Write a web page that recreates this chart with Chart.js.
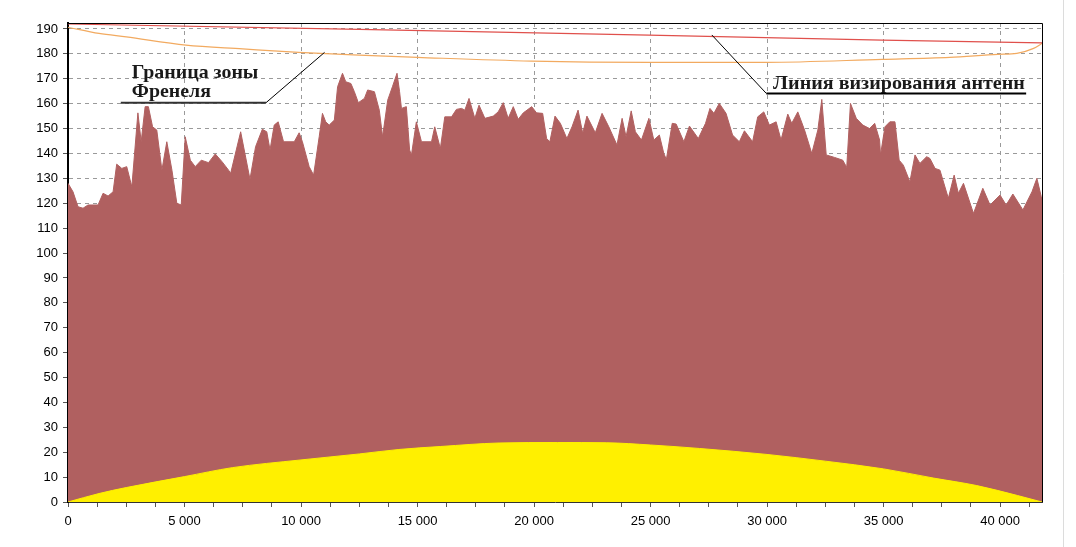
<!DOCTYPE html>
<html>
<head>
<meta charset="utf-8">
<title>Профиль трассы</title>
<script src="https://cdn.jsdelivr.net/npm/chart.js@4/dist/chart.umd.min.js"></script>
<style>
  html, body { margin: 0; padding: 0; background: #fff; }
  #wrap { width: 1076px; height: 547px; position: relative; }
</style>
</head>
<body>
<div id="wrap"><canvas id="chart-profile" width="1076" height="547"></canvas></div>
<script>
// terrain profile (distance, m / height, m)
const terrainDist = [
  0, 215, 430, 645, 860, 1290, 1505, 1720, 1935, 2090, 2310, 2520, 2740, 3000, 3140, 3310, 3450, 3630, 3810, 4030,
  4240, 4460, 4670, 4860, 5030, 5250, 5460, 5720, 6030, 6320, 6610, 6890, 6980, 7410, 7810, 8050, 8340, 8530, 8670, 8850,
  9020, 9250, 9710, 9920, 10060, 10350, 10540, 10780, 10920, 11060, 11210, 11430, 11570, 11780, 11920, 12140, 12290, 12460, 12720, 12860,
  13150, 13360, 13500, 13720, 13930, 14120, 14230, 14310, 14520, 14660, 14740, 14950, 15170, 15600, 15740, 15980, 16170, 16460, 16670, 16890,
  17030, 17210, 17460, 17640, 17890, 18250, 18460, 18680, 18890, 19110, 19320, 19540, 19900, 20110, 20370, 20540, 20680, 20900, 21130, 21410,
  21630, 21890, 22090, 22270, 22630, 22920, 23210, 23560, 23780, 23950, 24170, 24350, 24610, 24930, 25140, 25380, 25570, 25680, 25930, 26100,
  26430, 26670, 27050, 27360, 27550, 27720, 27950, 28240, 28520, 28810, 29030, 29380, 29600, 29860, 30100, 30390, 30600, 30890, 31060, 31320,
  31610, 31920, 32180, 32350, 32540, 32900, 33250, 33420, 33580, 33830, 34110, 34400, 34620, 34830, 34870, 35060, 35270, 35490, 35670, 35850,
  36130, 36350, 36560, 36850, 36990, 37210, 37420, 37780, 38030, 38210, 38430, 38860, 39260, 39570, 40000, 40260, 40550, 40980, 41370, 41580,
  41770, 41800
];
const terrainHeight = [
  128, 124.6, 118.6, 118, 119.3, 119.3, 124, 122.9, 124.6, 135.7, 134, 134.7, 126.6, 156.3, 144.7, 158.8, 158.8, 150.7, 149.4, 133.3,
  144.7, 133.3, 120, 119.3, 146.7, 137.3, 134.7, 137.3, 136.3, 139.8, 136.7, 133.3, 132, 148.7, 129.6, 142.7, 149.7, 148.7, 141.4, 151.4,
  152.7, 144.7, 144.7, 148.3, 144.7, 134.7, 131.3, 146.7, 156.1, 152.7, 151.4, 153.4, 166.8, 172.2, 168.8, 168.1, 164.8, 160.4, 162.1, 165.5,
  164.8, 157.4, 146.7, 161.4, 167, 172.2, 164.8, 158.1, 158.8, 141.4, 139.4, 152.7, 144.7, 144.7, 150.7, 142, 154.7, 154.7, 157.7, 158.1,
  157.4, 162.1, 154.1, 159.4, 154.1, 155, 156.7, 160.4, 154.1, 158.8, 153.7, 156.3, 158.8, 156.3, 156.1, 146, 144.7, 155, 152.1, 146,
  150.7, 157.4, 148.1, 155, 148.3, 156.1, 150.7, 143.4, 154.1, 146.7, 157.1, 148.7, 145.4, 154.1, 145.4, 147.4, 140, 137.6, 152.1, 151.8,
  144.7, 151, 146, 152.1, 158.1, 156.1, 160.1, 156.1, 147.4, 144.7, 149.1, 144.7, 154.7, 156.7, 151.4, 152.7, 145.4, 155.8, 152.1, 156.7,
  149.4, 140, 149.4, 161.7, 139.4, 138.4, 137.3, 134.4, 160.1, 154.1, 151.4, 150, 152.1, 145.4, 139.4, 150.7, 152.7, 152.7, 137.3, 135.3,
  128.6, 139.4, 136, 138.7, 138, 134, 133.3, 122, 131.3, 124, 128, 115.9, 126, 119.3, 123.3, 119.3, 123.7, 117.3, 124.6, 130,
  122.6, 122
];

// earth bulge
const bulgeDist = [0, 1330, 2500, 5000, 7050, 10000, 12500, 14200, 16000, 18500, 21000, 23100, 25000, 27100, 30000, 32500, 35000, 37150, 39000, 40750, 41800];
const bulgeHeight = [0, 3.4, 5.8, 10.2, 13.8, 16.9, 19.3, 21.1, 22.3, 23.7, 23.9, 23.8, 22.9, 21.5, 19.1, 16.4, 13.3, 9.6, 6.6, 2.6, 0];

// line of sight
const losDist = [0, 12490, 24930, 34940, 41800];
const losHeight = [192, 189.8, 187.5, 185.5, 184.4];

// lower Fresnel zone boundary
const fresnelDist = [0, 1330, 2500, 5060, 7500, 9900, 12490, 15000, 19900, 24930, 29970, 34940, 37840, 39900, 40720, 41440, 41800];
const fresnelHeight = [190.7, 188.2, 186.8, 183.5, 182, 180.6, 179.5, 178.6, 177.1, 176.6, 176.6, 177.8, 178.6, 179.8, 180.2, 182.2, 184.2];

// axes
const yTicks = [0, 10, 20, 30, 40, 50, 60, 70, 80, 90, 100, 110, 120, 130, 140, 150, 160, 170, 180, 190];
const xMajorTicks = [0, 5000, 10000, 15000, 20000, 25000, 30000, 35000, 40000];
const xMinorStep = 1250;
const xMax = 41800;
const yMax = 192.4;

// callouts (in data units)
const fresnelNote = { lines: ['Граница зоны', 'Френеля'], left: 2740, right: 8170, baselines: [170.5, 162.6],
  underline: [2265, 8500, 160.4], pointerFrom: [8500, 160.4], pointerTo: [11010, 180.6], underColor: '#333' };
const losNote = { lines: ['Линия визирования антенн'], left: 30260, right: 41065, baselines: [165.7],
  underline: [29970, 41120, 164.1], pointerFrom: [29970, 164.1], pointerTo: [27630, 187.6], underColor: '#000' };

const toXY = (xs, ys) => xs.map((v, i) => ({ x: v, y: ys[i] }));
const fmtThousands = v => String(v).replace(/\B(?=(\d{3})+(?!\d))/g, ' ');

const xTickValues = [];
for (let v = 0; v <= xMax; v += xMinorStep) xTickValues.push(v);

const profileFrame = {
  id: 'profileFrame',
  afterDatasetsDraw(chart) {
    const { ctx, chartArea: a, scales: { x, y } } = chart;
    ctx.save();
    // top / right frame
    ctx.strokeStyle = '#000';
    ctx.lineWidth = 1;
    ctx.beginPath();
    ctx.moveTo(a.left, a.top + 0.5);
    ctx.lineTo(a.right + 0.5, a.top + 0.5);
    ctx.lineTo(a.right + 0.5, a.bottom);
    ctx.stroke();

    [fresnelNote, losNote].forEach(n => {
      ctx.font = 'bold 19px "Liberation Serif"';
      ctx.fillStyle = '#1a1a1a';
      ctx.textBaseline = 'alphabetic';
      const left = x.getPixelForValue(n.left);
      const w = ctx.measureText(n.lines[0]).width;
      const sx = (x.getPixelForValue(n.right) - left) / w;
      n.lines.forEach((t, i) => {
        ctx.save();
        ctx.translate(left, y.getPixelForValue(n.baselines[i]));
        ctx.scale(sx, 1);
        ctx.fillText(t, 0, 0);
        ctx.restore();
      });
      ctx.strokeStyle = n.underColor;
      ctx.lineWidth = 2;
      ctx.beginPath();
      ctx.moveTo(x.getPixelForValue(n.underline[0]), y.getPixelForValue(n.underline[2]));
      ctx.lineTo(x.getPixelForValue(n.underline[1]), y.getPixelForValue(n.underline[2]));
      ctx.stroke();
      ctx.strokeStyle = '#000';
      ctx.lineWidth = 1;
      ctx.beginPath();
      ctx.moveTo(x.getPixelForValue(n.pointerFrom[0]), y.getPixelForValue(n.pointerFrom[1]));
      ctx.lineTo(x.getPixelForValue(n.pointerTo[0]), y.getPixelForValue(n.pointerTo[1]));
      ctx.stroke();
    });

    // light page edge on the right
    ctx.strokeStyle = '#dcdcdc';
    ctx.beginPath();
    ctx.moveTo(1063.5, 0);
    ctx.lineTo(1063.5, chart.height);
    ctx.stroke();
    ctx.restore();
  }
};

new Chart(document.getElementById('chart-profile'), {
  type: 'line',
  data: {
    datasets: [
      {
        label: 'Линия визирования',
        data: toXY(losDist, losHeight),
        borderColor: '#e0504c',
        borderWidth: 1.2,
        pointRadius: 0,
        fill: false,
        order: 0
      },
      {
        label: 'Граница зоны Френеля',
        data: toXY(fresnelDist, fresnelHeight),
        borderColor: '#f2aa60',
        borderWidth: 1.2,
        pointRadius: 0,
        cubicInterpolationMode: 'monotone',
        fill: false,
        order: 0
      },
      {
        label: 'Кривизна Земли',
        data: toXY(bulgeDist, bulgeHeight),
        borderColor: '#fff000',
        backgroundColor: '#fff000',
        borderWidth: 1,
        pointRadius: 0,
        cubicInterpolationMode: 'monotone',
        fill: 'origin',
        order: 1
      },
      {
        label: 'Профиль',
        data: toXY(terrainDist, terrainHeight),
        borderColor: '#b06060',
        backgroundColor: '#b06060',
        borderWidth: 1,
        pointRadius: 0,
        fill: 'origin',
        order: 2
      }
    ]
  },
  options: {
    responsive: false,
    animation: false,
    layout: { padding: { left: 0, top: 23, right: 34, bottom: 0 } },
    plugins: {
      legend: { display: false },
      tooltip: { enabled: false }
    },
    scales: {
      x: {
        type: 'linear',
        min: 0,
        max: xMax,
        afterFit: s => { s.height = 45; },
        afterBuildTicks: s => { s.ticks = xTickValues.map(v => ({ value: v })); },
        grid: {
          color: c => (c.tick && xMajorTicks.includes(c.tick.value)) ? '#9a9a9a' : 'rgba(0,0,0,0)',
          tickColor: '#555',
          tickLength: 5
        },
        border: { color: '#333', width: 1, dash: [4, 4] },
        ticks: {
          autoSkip: false,
          maxRotation: 0,
          padding: 7,
          color: '#000',
          font: { family: 'Liberation Sans', size: 13 },
          callback: v => xMajorTicks.includes(v) ? fmtThousands(v) : ''
        }
      },
      y: {
        min: 0,
        max: yMax,
        afterFit: s => { s.width = 68; },
        afterBuildTicks: s => { s.ticks = yTicks.map(v => ({ value: v })); },
        grid: {
          color: '#9a9a9a',
          tickColor: '#555',
          tickLength: 5
        },
        border: { color: '#000', width: 2, dash: [4, 4] },
        ticks: {
          autoSkip: false,
          padding: 5,
          color: '#000',
          font: { family: 'Liberation Sans', size: 13 }
        }
      }
    }
  },
  plugins: [profileFrame]
});
</script>
</body>
</html>
